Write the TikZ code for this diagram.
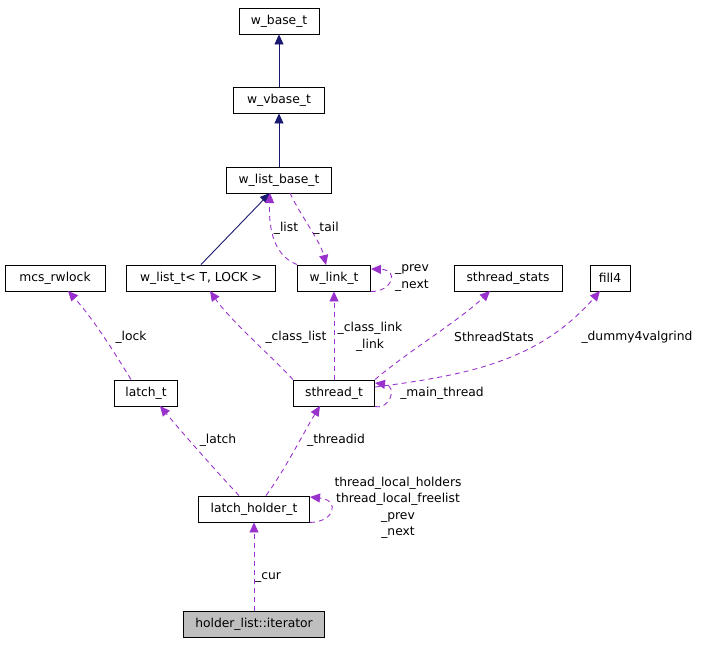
\documentclass[tikz,border=0pt]{standalone}
\usepackage{fontspec}
\setmainfont{DejaVu Sans}
\usetikzlibrary{arrows.meta}
\begin{document}
\begin{tikzpicture}[x=1pt,y=-1pt,
  cls/.style={draw=black,fill=white,minimum height=26pt,inner sep=2pt,font=\fontsize{12.3}{14}\selectfont,line width=0.9pt},
  inh/.style={draw={rgb,255:red,25;green,25;blue,112},line width=0.9pt,-{Triangle[length=10pt,width=9pt]}},
  dep/.style={draw={rgb,255:red,153;green,50;blue,204},dash pattern=on 5pt off 4pt,line width=0.9pt,-{Triangle[length=10pt,width=9pt]}},
  lbl/.style={font=\fontsize{12.3}{16.5}\selectfont,align=center,inner sep=1pt}]
\useasboundingbox (0,0) rectangle (701,645);
\node[cls,minimum width=80pt] (base) at (279,21) {w\_base\_t};
\node[cls,minimum width=91pt] (vbase) at (279,100) {w\_vbase\_t};
\node[cls,minimum width=105pt] (lbase) at (279,180) {w\_list\_base\_t};
\node[cls,minimum width=100pt] (mcs) at (55,278) {mcs\_rwlock};
\node[cls,minimum width=149pt] (wlist) at (201,278) {w\_list\_t< T, LOCK >};
\node[cls,minimum width=73pt] (wlink) at (334,278) {w\_link\_t};
\node[cls,minimum width=108pt] (stats) at (508,278) {sthread\_stats};
\node[cls,minimum width=40pt] (fill) at (610,278) {fill4};
\node[cls,minimum width=63pt] (latch) at (146,393) {latch\_t};
\node[cls,minimum width=81pt] (sth) at (334,393) {sthread\_t};
\node[cls,minimum width=111pt] (lh) at (254,509) {latch\_holder\_t};
\node[cls,minimum width=141pt,fill={rgb,255:red,191;green,191;blue,191}] (it) at (254,624) {holder\_list::iterator};

\draw[inh] (vbase) -- (base);
\draw[inh] (lbase) -- (vbase);
\draw[inh] (wlist.north) -- (270,193);
\draw[dep] (wlink.north west) .. controls (280,258) and (268,240) .. (270,193);
\node[lbl] (l1) at (286,228) {\_list};
\draw[dep] (290,193) .. controls (300,215) and (320,240) .. (326,265);
\node[lbl] (l2) at (326,228) {\_tail};
\draw[dep] (wlink.south east) .. controls (392,292) and (400,270) .. (371,269);
\node[lbl,align=left] (l3) at (412,278) {\_prev\\\_next};
\draw[dep] (sth.north west) .. controls (270,355) and (230,320) .. (210,291);
\node[lbl] (l4) at (296,337) {\_class\_list};
\draw[dep] (sth) -- (wlink);
\node[lbl] (l5) at (370,337) {\_class\_link\\\_link};
\draw[dep] (sth.north east) .. controls (410,350) and (460,320) .. (490,291);
\node[lbl] (l6) at (494,337) {SthreadStats};
\draw[dep] (sth.east) ++(0,-6) .. controls (470,375) and (540,360) .. (600,291);
\node[lbl] (l7) at (637,337) {\_dummy4valgrind};
\draw[dep] (sth.south east) .. controls (390,410) and (398,386) .. (375,383);
\node[lbl] (l8) at (442,393) {\_main\_thread};
\draw[dep] (lh.north) ++(-15,0) .. controls (215,470) and (180,430) .. (160,406);
\node[lbl] (l9) at (218,440) {\_latch};
\draw[dep] (lh.north) ++(12,0) .. controls (285,470) and (305,430) .. (320,406);
\node[lbl] (l10) at (336,440) {\_threadid};
\draw[dep] (lh.south east) .. controls (335,522) and (340,500) .. (310,497);
\node[lbl] (l11) at (398,508) {thread\_local\_holders\\thread\_local\_freelist\\\_prev\\\_next};
\draw[dep] (it) -- (lh);
\node[lbl] (l13) at (268,577) {\_cur};
\draw[dep] (latch.north) ++(-15,0) .. controls (110,345) and (90,315) .. (68,291);
\node[lbl] (l14) at (131,337) {\_lock};
\end{tikzpicture}
\end{document}
